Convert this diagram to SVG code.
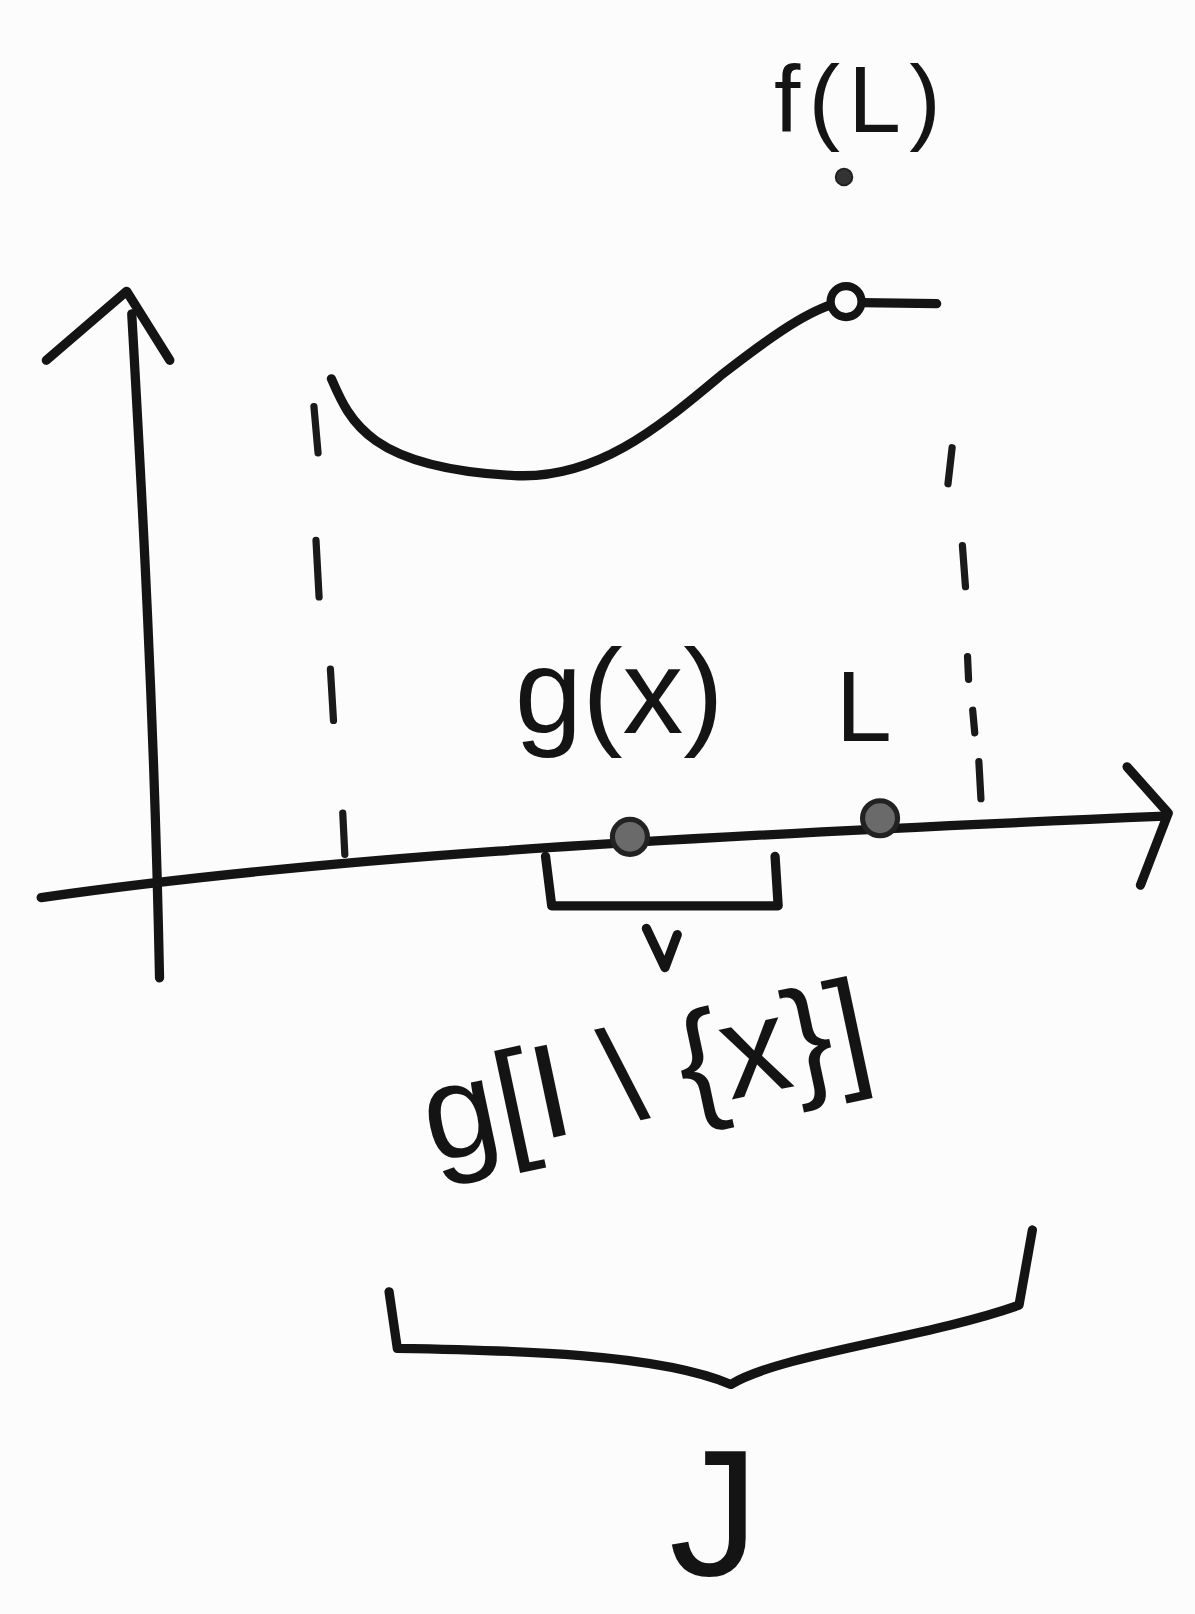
<svg xmlns="http://www.w3.org/2000/svg" width="1195" height="1614" viewBox="0 0 1195 1614">
<style>
.ln{fill:none;stroke:#141414;stroke-width:9;stroke-linecap:round;stroke-linejoin:round}
.ds{fill:none;stroke:#1a1a1a;stroke-width:7;stroke-linecap:round}
.tx{font-family:"Liberation Sans","DejaVu Sans",sans-serif;fill:#141414}
</style>
<rect width="1195" height="1614" fill="#fcfcfc"/>
<g transform="scale(1.0293)">
<g id="axes">
<path class="ln" d="M155,950 C150,700 138,480 128,305"/>
<path class="ln" d="M45,350 L123,283 L165,350"/>
<path class="ln" d="M40,872 C300,835 600,815 1132,793"/>
<path class="ln" d="M1095,745 L1135,790 L1108,860"/>
</g>
<g id="curve">
<path class="ln" d="M322,368 C340,410 360,455 500,462 C580,466 640,415 700,365 C745,330 780,305 808,296"/>
<path class="ln" d="M837,294 L910,295"/>
<circle cx="822" cy="293" r="15" fill="#fcfcfc" stroke="#141414" stroke-width="8"/>
<circle cx="820" cy="172" r="8" fill="#333" stroke="#222" stroke-width="2"/>
</g>
<g id="dashes">
<path class="ds" d="M305,395 L309,440 M307,525 L310,580 M321,650 L324,700 M333,790 L335,830"/>
<path class="ds" d="M925,435 L921,470 M935,530 L938,570 M940,638 L941,660 M945,690 L947,712 M951,740 L953,776"/>
</g>
<g id="points">
<circle cx="612" cy="813" r="17" fill="#6a6a6a" stroke="#222" stroke-width="5"/>
<circle cx="855" cy="795" r="17" fill="#6a6a6a" stroke="#222" stroke-width="5"/>
</g>
<g id="brackets">
<path class="ln" d="M530,832 L536,880 L756,880 L753,832" stroke-width="6"/>
<path class="ln" d="M628,902 L646,940 L658,908" stroke-width="5"/>
<path class="ln" d="M378,1255 L386,1310 C500,1312 640,1315 710,1345 C760,1315 900,1300 990,1268 L1003,1195"/>
</g>
<g id="labels">
<text class="tx" x="752" y="128" font-size="92" letter-spacing="8">f(L)</text>
<text class="tx" x="500" y="712" font-size="118">g(x)</text>
<text class="tx" x="812" y="720" font-size="98">L</text>
<text class="tx" font-size="130" transform="translate(420,1130) rotate(-12)">g[I \ {x}]</text>
<text class="tx" x="650" y="1530" font-size="175">J</text>
</g>
</g>
</svg>
